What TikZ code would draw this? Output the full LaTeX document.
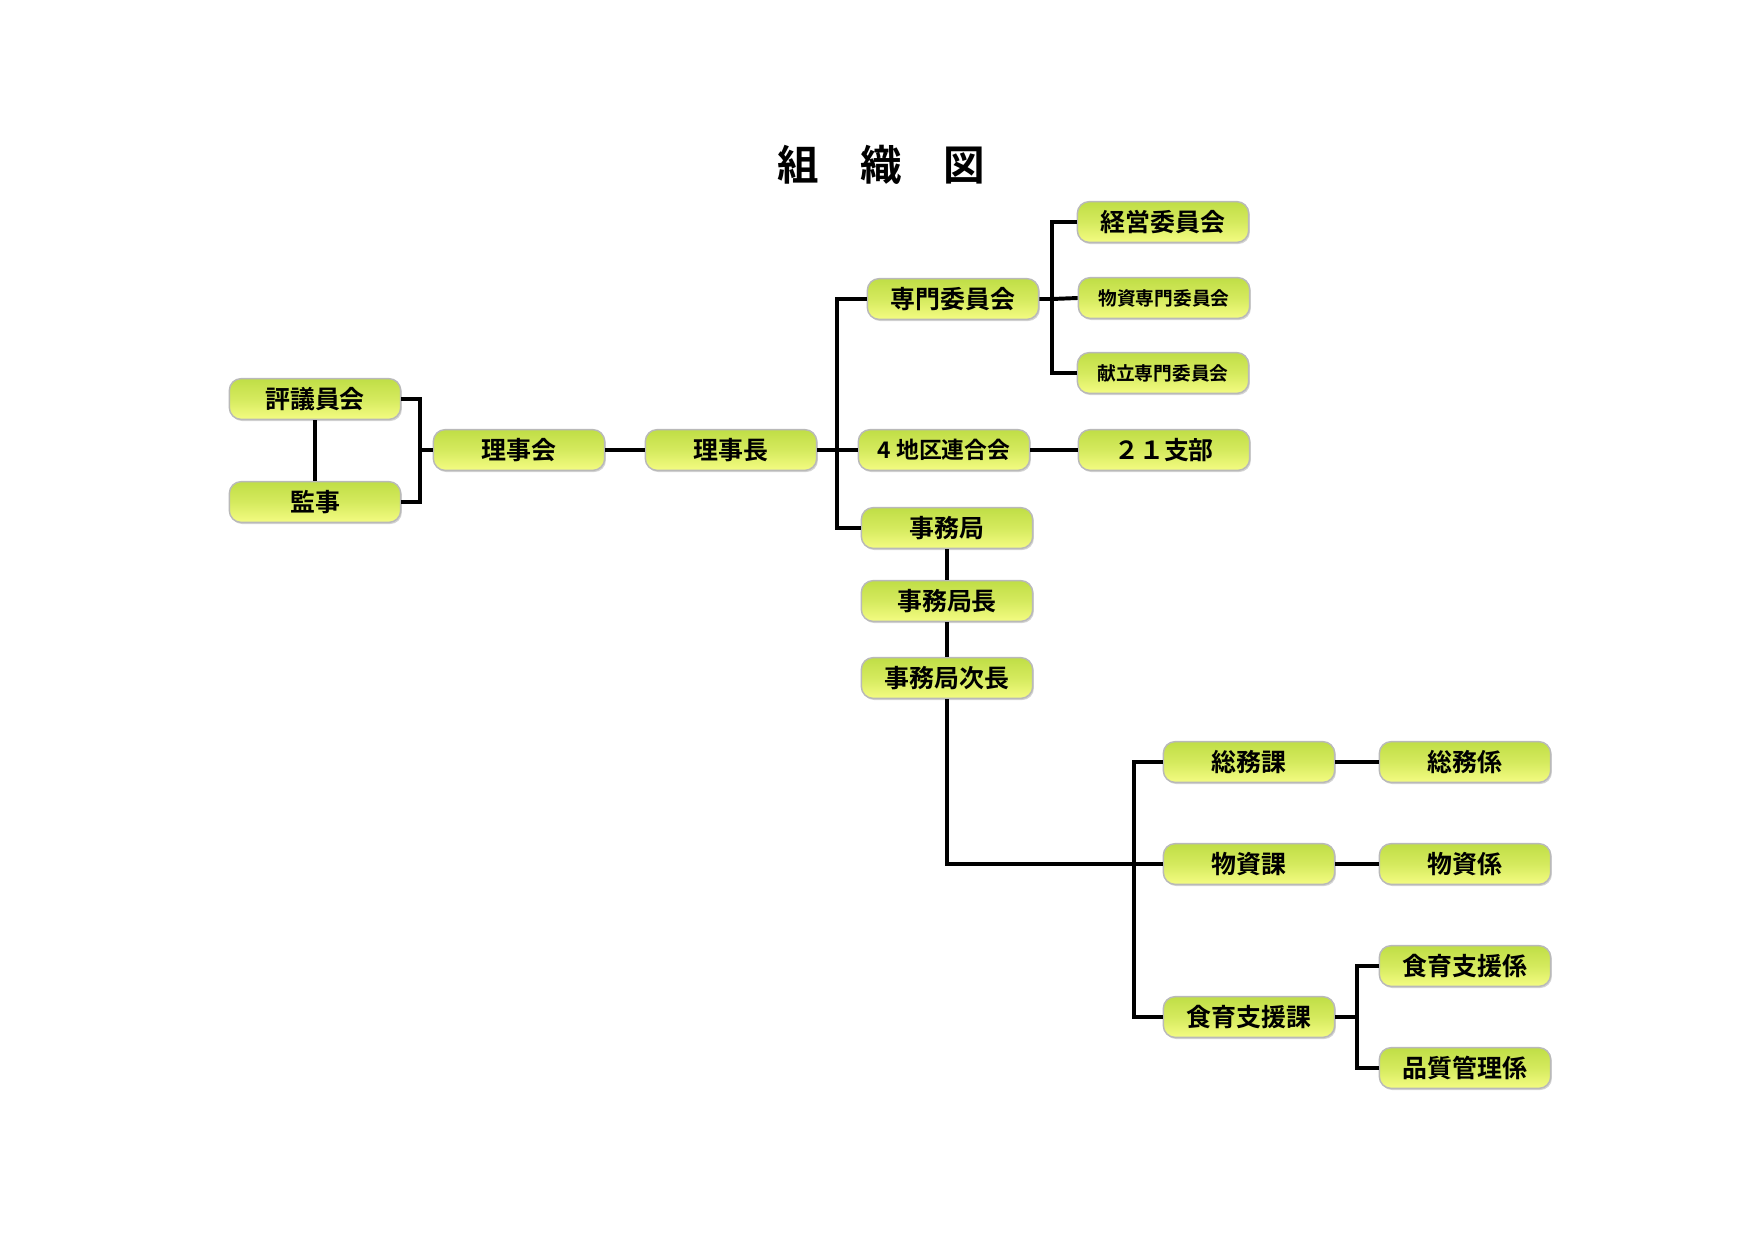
\documentclass[tikz,border=0pt]{standalone}
\usepackage{fontspec}
\newfontfamily\jpfont{Noto Sans CJK JP}[BoldFont={Noto Sans CJK JP Bold}]
\usetikzlibrary{shadows}
\definecolor{btntop}{RGB}{192,222,70}
\definecolor{btnbot}{RGB}{244,252,130}
\begin{document}
\begin{tikzpicture}[x=0.016923cm,y=-0.016923cm,
		line width=1.9pt,
		org node/.style = {rectangle,rounded corners=0.2cm,draw=gray!55,line width=0.7pt,
			top color=btntop,bottom color=btnbot,middle color=btntop!60!btnbot,
			drop shadow={shadow xshift=0.6pt,shadow yshift=-0.8pt,opacity=0.35},
			minimum width=2.9cm,minimum height=0.69cm,inner sep=0pt,
			font=\jpfont\bfseries\fontsize{12}{12}\selectfont},
		small text/.style = {font=\jpfont\bfseries\fontsize{9}{9}\selectfont}]
	
	\useasboundingbox (0,0) rectangle (1755,1241);
	\node[font=\jpfont\bfseries\fontsize{20}{20}\selectfont] (title) at (881,165) {組　織　図};
	
	\node[org node] (hyo) at (315,399) {評議員会};
	\node[org node] (kanji) at (315,502) {監事};
	\node[org node] (rijikai) at (519,450) {理事会};
	\node[org node] (rijicho) at (731,450) {理事長};
	\node[org node] (senmon) at (953,299) {専門委員会};
	\node[org node,font=\jpfont\bfseries\fontsize{11}{11}\selectfont] (chiku) at (944,450) {4 地区連合会};
	\node[org node] (jimu) at (947,528) {事務局};
	\node[org node] (jimucho) at (947,601) {事務局長};
	\node[org node] (jimujicho) at (947,678) {事務局次長};
	\node[org node] (keiei) at (1163,222) {経営委員会};
	\node[org node,small text] (busshi) at (1164,298) {物資専門委員会};
	\node[org node,small text] (kondate) at (1163,373) {献立専門委員会};
	\node[org node] (shibu) at (1164,450) {２１支部};
	\node[org node] (somuka) at (1249,762) {総務課};
	\node[org node] (busshika) at (1249,864) {物資課};
	\node[org node] (shokuka) at (1249,1017) {食育支援課};
	\node[org node] (somukakari) at (1465,762) {総務係};
	\node[org node] (busshikakari) at (1465,864) {物資係};
	\node[org node] (shokukakari) at (1465,966) {食育支援係};
	\node[org node] (hinshitsu) at (1465,1068) {品質管理係};
	
	\coordinate (b1) at (420,450);
	\coordinate (b2) at (837,450);
	\coordinate (b3) at (1052,299);
	\coordinate (b4) at (1134,864);
	\coordinate (b5) at (1357,1017);
	
	\draw (hyo) -- (kanji);
	\draw (hyo.east) -| (b1) |- (kanji.east);
	\draw (b1) -- (rijikai.west);
	\draw (rijikai) -- (rijicho);
	\draw (rijicho.east) -- (b2) -- (chiku.west);
	\draw (senmon.west) -| (b2) |- (jimu.west);
	\draw (senmon.east) -- (b3) -- (busshi.west);
	\draw (keiei.west) -| (b3) |- (kondate.west);
	\draw (chiku) -- (shibu);
	\draw (jimu) -- (jimucho) -- (jimujicho);
	\draw (jimujicho.south) |- (b4) -- (busshika.west);
	\draw (somuka.west) -| (b4) |- (shokuka.west);
	\draw (somuka) -- (somukakari);
	\draw (busshika) -- (busshikakari);
	\draw (shokuka.east) -- (b5);
	\draw (shokukakari.west) -| (b5) |- (hinshitsu.west);
\end{tikzpicture}
\end{document}
